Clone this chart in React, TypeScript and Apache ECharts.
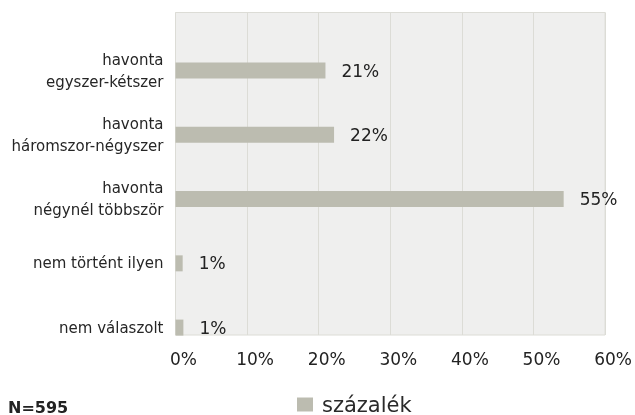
import React, { useEffect, useRef } from "react";
import * as echarts from "echarts";

const categories = [
  "havonta\negyszer-kétszer",
  "havonta\nháromszor-négyszer",
  "havonta\nnégynél többször",
  "nem történt ilyen",
  "nem válaszolt",
];
const values = [20.9, 22.1, 54.1, 1.0, 1.1];
const valueLabels = ["21%", "22%", "55%", "1%", "1%"];
const seriesName = "százalék";
const xMin = 0;
const xMax = 60;
const xInterval = 10;
const noteText = "N=595";

const FONT = "DejaVu Sans";

export default function App() {
  const ref = useRef<HTMLDivElement>(null);
  useEffect(() => {
    if (!ref.current) return;
    const chart = echarts.init(ref.current, undefined, { renderer: "svg" });
    chart.setOption({
      animation: false,
      textStyle: { fontFamily: FONT },
      grid: [
        {
          left: 175.5,
          width: 430.5,
          top: 12.5,
          height: 322.5,
          show: true,
          backgroundColor: "#efefee",
          borderColor: "#dcdcd6",
          borderWidth: 1,
        },
        {
          left: 175.5,
          width: 430.5,
          top: 38.5,
          height: 321.2,
        },
      ],
      xAxis: [
        {
          gridIndex: 0,
          type: "value",
          min: xMin,
          max: xMax,
          interval: xInterval,
          axisLine: { show: false },
          axisTick: { show: false },
          splitLine: { show: true, lineStyle: { color: "#dcdcd6", width: 1 } },
          axisLabel: {
            formatter: "{value}%",
            color: "#222",
            fontSize: 17,
            fontFamily: FONT,
            margin: 15,
            padding: [0, 0, 0, 16],
            alignMaxLabel: "center",
            alignMinLabel: "center",
          },
        },
        {
          gridIndex: 1,
          type: "value",
          min: xMin,
          max: xMax,
          show: false,
        },
      ],
      yAxis: [
        { gridIndex: 0, type: "value", show: false },
        {
          gridIndex: 1,
          type: "category",
          inverse: true,
          data: categories,
          axisLine: { show: false },
          axisTick: { show: false },
          splitLine: { show: false },
          axisLabel: {
            color: "#262626",
            fontSize: 15,
            fontFamily: FONT,
            margin: 12,
            lineHeight: 22,
          },
        },
      ],
      legend: {
        left: 297,
        top: 394,
        padding: 0,
        itemWidth: 16,
        itemHeight: 14,
        icon: "rect",
        data: [seriesName],
        textStyle: {
          fontSize: 21,
          color: "#2a2a2a",
          fontFamily: FONT,
          padding: [0, 0, 0, 4],
        },
      },
      graphic: [
        {
          type: "text",
          x: 8,
          y: 407,
          style: {
            text: noteText,
            fontSize: 16,
            fontWeight: "bold",
            fill: "#222",
            fontFamily: FONT,
            verticalAlign: "middle",
          },
        },
      ],
      series: [
        {
          name: seriesName,
          type: "bar",
          xAxisIndex: 1,
          yAxisIndex: 1,
          data: values,
          barWidth: 16,
          itemStyle: { color: "#bcbcb0" },
          label: {
            show: true,
            position: "right",
            distance: 16,
            color: "#222",
            fontSize: 17,
            fontFamily: FONT,
            formatter: (p: any) => valueLabels[p.dataIndex],
          },
        },
      ],
    });
    return () => chart.dispose();
  }, []);
  return (
    <div
      ref={ref}
      style={{ position: "fixed", left: 0, top: 0, width: 635, height: 415 }}
    />
  );
}
